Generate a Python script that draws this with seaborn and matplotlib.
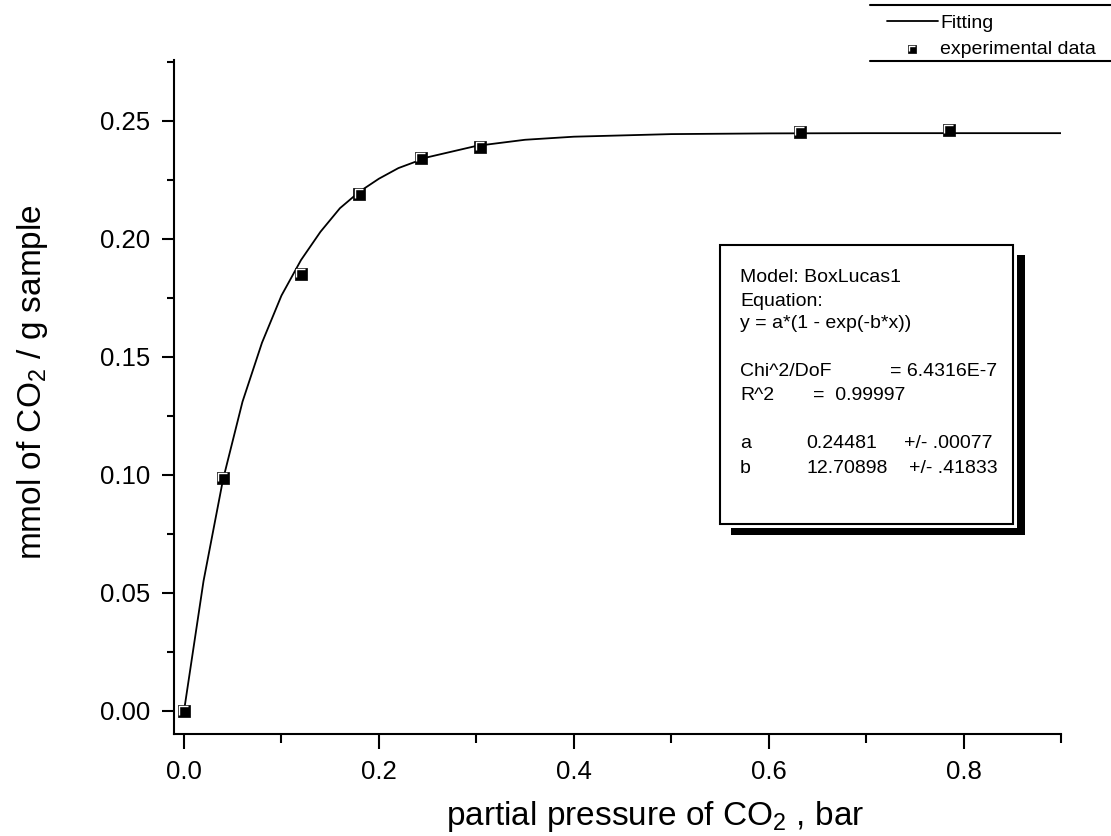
"""CO2 uptake isotherm with BoxLucas1 fit."""

import matplotlib

matplotlib.use("Agg")
import matplotlib.pyplot as plt
import numpy as np
import pandas as pd
import seaborn as sns
from matplotlib.lines import Line2D
from matplotlib.patches import Rectangle
from matplotlib.path import Path
from matplotlib.ticker import MultipleLocator

# experimental points
pressure = [0.0, 0.040, 0.120, 0.180, 0.243, 0.304, 0.632, 0.785]
uptake = [0.0, 0.0988, 0.1853, 0.2190, 0.2344, 0.2391, 0.2455, 0.2463]

# fitted curve
fit_x = [0.0, 0.02, 0.04, 0.06, 0.08, 0.10, 0.12, 0.14, 0.16, 0.18, 0.20,
         0.22, 0.25, 0.30, 0.35, 0.40, 0.50, 0.60, 0.70, 0.90]
fit_y = [0.0, 0.055, 0.098, 0.131, 0.156, 0.176, 0.191, 0.203, 0.213, 0.220,
         0.2255, 0.230, 0.2346, 0.2394, 0.242, 0.2433, 0.2444, 0.2447, 0.2448, 0.2448]

x_ticks = [0.0, 0.2, 0.4, 0.6, 0.8]
y_ticks = [0.00, 0.05, 0.10, 0.15, 0.20, 0.25]

box_lines = ["Model: BoxLucas1", "Equation:", "y = a*(1 - exp(-b*x))"]

sns.set_theme(style="ticks")
plt.rcParams["font.family"] = ["Liberation Sans", "DejaVu Sans"]
plt.rcParams["mathtext.fontset"] = "custom"
plt.rcParams["mathtext.rm"] = "Liberation Sans"
plt.rcParams["mathtext.it"] = "Liberation Sans:italic"
plt.rcParams["mathtext.bf"] = "Liberation Sans:bold"
for key in ["text.color", "axes.labelcolor", "xtick.color", "ytick.color"]:
    plt.rcParams[key] = "black"

W, H = 1111, 836
fig = plt.figure(figsize=(W / 100, H / 100), dpi=100)
ax = fig.add_axes([174 / W, 1 - 734 / H, (1061 - 174) / W, (734 - 60) / H])

pts = pd.DataFrame({"p": pressure, "q": uptake})
fit = pd.DataFrame({"p": fit_x, "q": fit_y})

sns.lineplot(data=fit, x="p", y="q", ax=ax, color="black", lw=1.3,
             estimator=None, sort=False, zorder=2)
fit_line = ax.lines[-1]

ms = 9.0
sq = ax.scatter(pts["p"], pts["q"], marker="s", s=ms ** 2, c="black",
                edgecolors="black", linewidths=0.5, zorder=3)
corner = Path([(-0.76, -0.6), (-0.76, 0.76), (0.6, 0.76)],
              [Path.MOVETO, Path.LINETO, Path.LINETO])
cr = ax.scatter(pts["p"], pts["q"], marker=corner, s=(ms * 0.76) ** 2,
                facecolors="none", edgecolors="white", linewidths=1.0, zorder=4)

ax.set_xlim(-0.0103, 0.9)
ax.set_ylim(-0.0098, 0.2758)
ax.set_xticks(x_ticks)
ax.set_xticklabels([f"{v:.1f}" for v in x_ticks])
ax.set_yticks(y_ticks)
ax.set_yticklabels([f"{v:.2f}" for v in y_ticks])
ax.xaxis.set_minor_locator(MultipleLocator(0.1))
ax.yaxis.set_minor_locator(MultipleLocator(0.025))
ax.tick_params(axis="x", which="major", length=10.5, width=1.5, pad=8, labelsize=18.5)
ax.tick_params(axis="x", which="minor", length=6.5, width=1.5)
ax.tick_params(axis="y", which="major", length=9, width=1.5, pad=8, labelsize=18.5)
ax.tick_params(axis="y", which="minor", length=5, width=1.5)
for side in ["left", "bottom"]:
    ax.spines[side].set_linewidth(1.5)
    ax.spines[side].set_color("black")
sns.despine(ax=ax)

ax.set_xlabel("partial pressure of CO$_2$ , bar", fontsize=24)
ax.set_ylabel("mmol of CO$_2$ / g sample", fontsize=24)
ax.xaxis.set_label_coords(0.542, -0.096)
ax.yaxis.set_label_coords(-0.14, 0.522)


def fx(px):
    return px / W


def fy(py):
    return 1 - py / H


# results box with drop shadow
fig.add_artist(Rectangle((fx(731), fy(535)), (1025 - 731) / W, (535 - 255) / H,
                         transform=fig.transFigure, facecolor="black",
                         edgecolor="none", zorder=5))
fig.add_artist(Rectangle((fx(720), fy(528)), (1017 - 720) / W, (528 - 245) / H,
                         transform=fig.transFigure, facecolor="white",
                         edgecolor="none", zorder=6))
fig.add_artist(Rectangle((fx(720), fy(524)), (1013 - 720) / W, (524 - 245) / H,
                         transform=fig.transFigure, facecolor="white",
                         edgecolor="black", lw=1.5, zorder=7))

tk = dict(fontsize=14, va="center", zorder=8)
for line, py in zip(box_lines, [277, 301, 324]):
    fig.text(fx(740), fy(py), line, ha="left", **tk)
fig.text(fx(740), fy(372), "Chi^2/DoF", ha="left", **tk)
fig.text(fx(997), fy(372), "= 6.4316E-7", ha="right", **tk)
fig.text(fx(740), fy(396), "R^2", ha="left", **tk)
fig.text(fx(905), fy(396), "=  0.99997", ha="right", **tk)
fig.text(fx(740), fy(444), "a", ha="left", **tk)
fig.text(fx(806), fy(444), "0.24481", ha="left", **tk)
fig.text(fx(992), fy(444), "+/- .00077", ha="right", **tk)
fig.text(fx(740), fy(468), "b", ha="left", **tk)
fig.text(fx(806), fy(468), "12.70898", ha="left", **tk)
fig.text(fx(998), fy(468), "+/- .41833", ha="right", **tk)

# legend in the top-right corner
fig.legend(handles=[fit_line, (sq, cr)], labels=["Fitting", "experimental data"],
           loc="upper left", bbox_to_anchor=(fx(887), fy(14)), frameon=False,
           fontsize=14, handlelength=2.6, handletextpad=0.15, markerscale=0.65,
           labelspacing=0.45, borderpad=0, borderaxespad=0)
for py in [5, 61]:
    fig.add_artist(Line2D([fx(870), 1.0], [fy(py), fy(py)], transform=fig.transFigure,
                          color="black", lw=1.5))

fig.savefig("out.png", dpi=100)
plt.close(fig)
